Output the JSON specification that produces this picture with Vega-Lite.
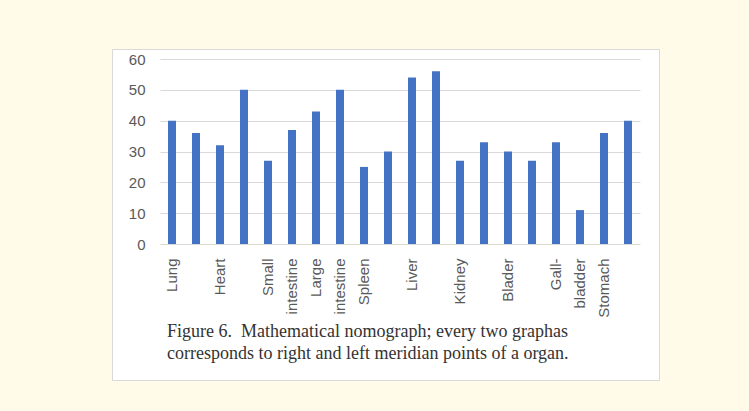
{
  "$schema": "https://vega.github.io/schema/vega-lite/v6.json",
  "width": 547,
  "height": 331,
  "autosize": {"type": "none"},
  "padding": {"left": 112, "top": 49, "right": 90, "bottom": 31},
  "background": "#fffbe8",
  "config": {"view": {"fill": "#ffffff", "stroke": "#d9d9d9", "strokeWidth": 1}},
  "title": {
    "text": ["Figure 6.\u00a0 Mathematical nomograph; every two graphas", "corresponds to right and left meridian points of a organ."],
    "orient": "bottom",
    "anchor": "start",
    "frame": "group",
    "offset": -43,
    "dx": 55,
    "font": "Liberation Serif",
    "fontSize": 18,
    "fontWeight": "normal",
    "color": "#333333",
    "lineHeight": 22,
    "baseline": "alphabetic"
  },
  "data": {
    "values": [
      {"i": 1, "value": 40},
      {"i": 2, "value": 36},
      {"i": 3, "value": 32},
      {"i": 4, "value": 50},
      {"i": 5, "value": 27},
      {"i": 6, "value": 37},
      {"i": 7, "value": 43},
      {"i": 8, "value": 50},
      {"i": 9, "value": 25},
      {"i": 10, "value": 30},
      {"i": 11, "value": 54},
      {"i": 12, "value": 56},
      {"i": 13, "value": 27},
      {"i": 14, "value": 33},
      {"i": 15, "value": 30},
      {"i": 16, "value": 27},
      {"i": 17, "value": 33},
      {"i": 18, "value": 11},
      {"i": 19, "value": 36},
      {"i": 20, "value": 40}
    ]
  },
  "mark": {"type": "bar", "color": "#4472c4"},
  "encoding": {
    "x": {
      "field": "i",
      "type": "ordinal",
      "sort": null,
      "scale": {"range": [48, 528], "paddingInner": 0.667, "paddingOuter": 0.333},
      "axis": {
        "title": null,
        "labelAngle": -90,
        "labelAlign": "right",
        "labelBaseline": "middle",
        "domain": false,
        "ticks": false,
        "tickSize": 0,
        "labelPadding": 0,
        "offset": -122,
        "labelExpr": "['','Lung','','Heart','','Small','intestine','Large','intestine','Spleen','','Liver','','Kidney','','Blader','','Gall-','bladder','Stomach',''][datum.value]",
        "labelFont": "Liberation Sans",
        "labelFontSize": 15,
        "labelColor": "#595959",
        "labelOverlap": false,
        "labelBound": false,
        "labelFlush": false,
        "grid": false
      }
    },
    "y": {
      "field": "value",
      "type": "quantitative",
      "scale": {"domain": [0, 60], "range": [195, 10], "nice": false},
      "axis": {
        "title": null,
        "values": [0, 10, 20, 30, 40, 50, 60],
        "domain": false,
        "ticks": false,
        "tickSize": 0,
        "labelPadding": 0,
        "offset": -33,
        "labelFont": "Liberation Sans",
        "labelFontSize": 15,
        "labelColor": "#595959",
        "grid": true,
        "gridColor": "#d9d9d9",
        "gridWidth": 1
      }
    }
  }
}
